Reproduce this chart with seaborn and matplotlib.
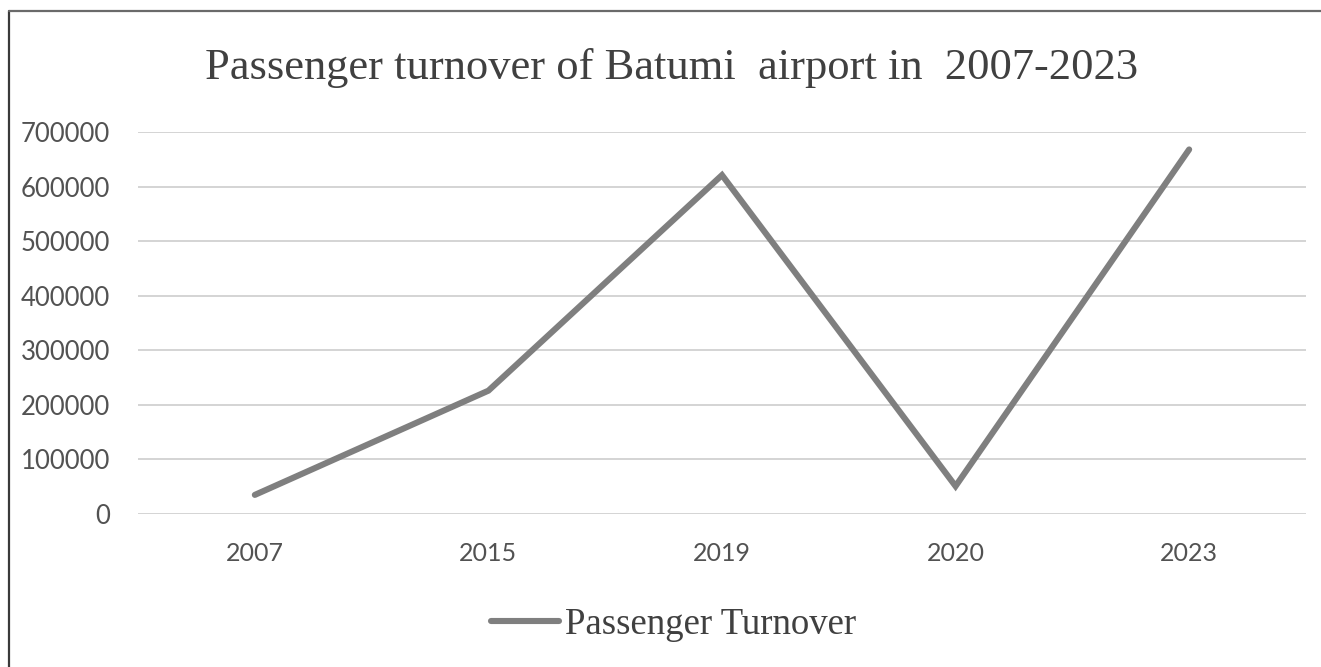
import matplotlib
matplotlib.use("Agg")
import matplotlib.pyplot as plt
from matplotlib.lines import Line2D
import seaborn as sns
import pandas as pd

years = ["2007", "2015", "2019", "2020", "2023"]
passengers = [35000, 226000, 621000, 51000, 668000]
series_name = "Passenger Turnover"
title = "Passenger turnover of Batumi  airport in  2007-2023"
y_ticks = [0, 100000, 200000, 300000, 400000, 500000, 600000, 700000]

sns.set_theme(style="white")
plt.rcParams["font.family"] = ["Lato", "DejaVu Sans"]

df = pd.DataFrame({"Year": years, "Passengers": passengers})

fig = plt.figure(figsize=(13.21, 6.67), dpi=100)
ax = fig.add_axes([0.1045, 0.2294, 0.8841, 0.5727])

line_color = "#7f7f7f"
sns.lineplot(data=df, x="Year", y="Passengers", ax=ax, color=line_color,
             linewidth=4.4, solid_capstyle="round", solid_joinstyle="miter",
             label=series_name, legend=False)

ax.set_xlim(-0.5, len(years) - 0.5)
ax.set_ylim(0, 700000)
ax.set_yticks(y_ticks)
ax.set_yticklabels([str(v) for v in y_ticks])
ax.yaxis.grid(True, color="#d4d4d4", linewidth=1.4)
ax.set_axisbelow(True)
for s in ax.spines.values():
    s.set_visible(False)
ax.set_xlabel("")
ax.set_ylabel("")
ax.tick_params(axis="y", length=0, pad=20, labelsize=18.5, labelcolor="#525252")
ax.tick_params(axis="x", length=0, pad=20, labelsize=18, labelcolor="#525252")

fig.text(0.508, 0.898, title, ha="center", va="center",
         family=["Liberation Serif"], fontsize=32, color="#404040")

handle = Line2D([], [], color=line_color, linewidth=4.4, solid_capstyle="round")
leg = fig.legend([handle], [series_name], loc="center",
                 bbox_to_anchor=(0.51, 0.063), frameon=False,
                 handlelength=1.85, handletextpad=0.15,
                 prop={"family": "Liberation Serif", "size": 26.5})
for t in leg.get_texts():
    t.set_color("#404040")

# figure frame: left and top edges
fig.add_artist(Line2D([9 / 1321, 9 / 1321], [0, 1 - 11 / 667],
                      transform=fig.transFigure, color="#3a3a3a", linewidth=1.6))
fig.add_artist(Line2D([9 / 1321, 1], [1 - 11 / 667, 1 - 11 / 667],
                      transform=fig.transFigure, color="#6a6a6a", linewidth=1.6))

fig.savefig("out.png", dpi=100, facecolor="white")
